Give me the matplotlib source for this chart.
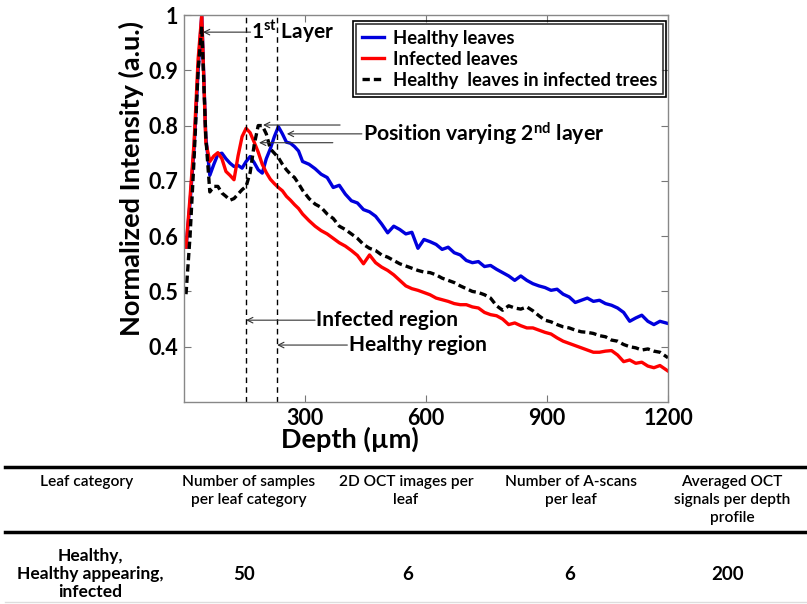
import matplotlib
matplotlib.use("Agg")
import matplotlib.pyplot as plt
from matplotlib.lines import Line2D
from matplotlib.patches import Rectangle

# ---------------- data ----------------
depth = [5, 15, 25, 35, 44, 54, 64, 74, 84, 94, 104, 114, 124, 134, 144, 154, 164, 174, 184, 194,
         204, 214, 224, 234, 244, 254, 264, 274, 284, 294,
         310, 325, 340, 355, 370, 385, 400, 415, 430, 445, 460, 475, 490, 505, 520, 535, 550, 565,
         580, 595, 610, 625, 640, 655, 670, 685, 700, 715, 730, 745, 760, 775, 790, 805, 820, 835,
         850, 865, 880, 895, 910, 925, 940, 955, 970, 985, 1000, 1015, 1030, 1045, 1060, 1075, 1090,
         1105, 1120, 1135, 1150, 1165, 1180, 1200]

healthy = [0.58, 0.66, 0.76, 0.90, 1.00, 0.78, 0.71, 0.73, 0.748, 0.75, 0.74, 0.732, 0.726, 0.728,
           0.723, 0.735, 0.744, 0.733, 0.72, 0.714, 0.74, 0.758, 0.78, 0.798, 0.785, 0.77, 0.768,
           0.762, 0.754, 0.735,
           0.73, 0.722, 0.712, 0.706, 0.688, 0.692, 0.676, 0.664, 0.66, 0.648, 0.644, 0.636, 0.622,
           0.606, 0.618, 0.612, 0.604, 0.607, 0.578, 0.594, 0.59, 0.585, 0.576, 0.58, 0.57, 0.566,
           0.556, 0.552, 0.554, 0.545, 0.547, 0.54, 0.534, 0.528, 0.52, 0.528, 0.52, 0.514, 0.51,
           0.507, 0.502, 0.504, 0.495, 0.49, 0.48, 0.484, 0.488, 0.482, 0.484, 0.478, 0.475, 0.47,
           0.462, 0.446, 0.452, 0.457, 0.446, 0.44, 0.446, 0.442]

infected = [0.58, 0.67, 0.77, 0.92, 1.00, 0.77, 0.735, 0.745, 0.751, 0.74, 0.717, 0.71, 0.702,
            0.745, 0.78, 0.795, 0.787, 0.77, 0.752, 0.73, 0.715, 0.703, 0.695, 0.688, 0.682, 0.672,
            0.665, 0.657, 0.65, 0.64,
            0.628, 0.618, 0.61, 0.604, 0.596, 0.588, 0.582, 0.574, 0.565, 0.55, 0.566, 0.552, 0.544,
            0.538, 0.53, 0.52, 0.51, 0.505, 0.502, 0.498, 0.494, 0.488, 0.485, 0.482, 0.478, 0.476,
            0.476, 0.472, 0.47, 0.462, 0.458, 0.456, 0.45, 0.44, 0.443, 0.438, 0.434, 0.434, 0.43,
            0.426, 0.423, 0.416, 0.41, 0.406, 0.402, 0.398, 0.394, 0.39, 0.39, 0.392, 0.393, 0.385,
            0.373, 0.376, 0.37, 0.372, 0.365, 0.362, 0.366, 0.356]

healthy_in_infected = [0.495, 0.60, 0.74, 0.90, 0.98, 0.78, 0.68, 0.69, 0.69, 0.678, 0.672, 0.665,
                       0.668, 0.676, 0.684, 0.69, 0.715, 0.765, 0.80, 0.80, 0.785, 0.758, 0.75,
                       0.742, 0.73, 0.72, 0.712, 0.706, 0.695, 0.683,
                       0.668, 0.658, 0.652, 0.64, 0.632, 0.618, 0.612, 0.604, 0.596, 0.585, 0.578,
                       0.574, 0.566, 0.562, 0.556, 0.55, 0.546, 0.542, 0.538, 0.535, 0.534, 0.53,
                       0.524, 0.52, 0.516, 0.51, 0.505, 0.5, 0.498, 0.494, 0.488, 0.474, 0.466,
                       0.474, 0.47, 0.468, 0.472, 0.465, 0.456, 0.448, 0.445, 0.44, 0.436, 0.434,
                       0.43, 0.427, 0.426, 0.424, 0.42, 0.418, 0.412, 0.41, 0.404, 0.4, 0.398,
                       0.394, 0.396, 0.392, 0.39, 0.38]

series_labels = ["Healthy leaves", "Infected leaves", "Healthy  leaves in infected trees"]
x_ticks = [300, 600, 900, 1200]
y_ticks = [0.4, 0.5, 0.6, 0.7, 0.8, 0.9, 1.0]
y_tick_labels = ["0.4", "0.5", "0.6", "0.7", "0.8", "0.9", "1"]
infected_region = 154
healthy_region = 231

table_headers = ["Leaf category", "Number of samples\nper leaf category", "2D OCT images per\nleaf",
                 "Number of A-scans\nper leaf", "Averaged OCT\nsignals per depth\nprofile"]
table_row = ["Healthy,\nHealthy appearing,\ninfected", "50", "6", "6", "200"]

# ---------------- style ----------------
plt.rcParams['font.family'] = ['Lato', 'DejaVu Sans']
plt.rcParams['mathtext.fontset'] = 'custom'
plt.rcParams['mathtext.rm'] = 'Lato:bold'
plt.rcParams['mathtext.it'] = 'Lato:bold'
plt.rcParams['mathtext.bf'] = 'Lato:bold'

W, H = 807, 604
fig = plt.figure(figsize=(W / 100, H / 100), dpi=100)
fig.patch.set_facecolor('white')

L, R, T, B = 184, 668, 15, 402
ax = fig.add_axes([L / W, 1 - B / H, (R - L) / W, (B - T) / H])

ax.plot(depth, healthy, color='#0000dd', lw=2.4, label=series_labels[0])
ax.plot(depth, infected, color='#ff0000', lw=2.4, label=series_labels[1])
ax.plot(depth, healthy_in_infected, color='black', lw=2.4, linestyle=(0, (2.2, 1.2)),
        label=series_labels[2])

ax.axvline(infected_region, color='black', lw=1.0, linestyle=(0, (4, 3)))
ax.axvline(healthy_region, color='black', lw=1.0, linestyle=(0, (4, 3)))

ax.set_xlim(0, 1200)
ax.set_ylim(0.3, 1.0)
ax.set_xticks(x_ticks)
ax.set_yticks(y_ticks)
ax.set_yticklabels(y_tick_labels)
ax.tick_params(direction='in', top=True, right=True, length=5, width=0.8, color='#777777',
               labelsize=15.5, pad=4)
for lab in ax.get_xticklabels() + ax.get_yticklabels():
    lab.set_fontweight('bold')
for sp in ax.spines.values():
    sp.set_color('#888888')
    sp.set_linewidth(1.0)

ax.set_xlabel("Depth (\u00b5m)", fontsize=19.5, fontweight='bold')
ax.set_ylabel("Normalized Intensity (a.u.)", fontsize=19.5, fontweight='bold')
ax.xaxis.set_label_coords((350 - L) / (R - L), (B - 427) / (B - T))
ax.yaxis.set_label_coords((144 - L) / (R - L), (B - 178) / (B - T))

leg = ax.legend(loc='upper right', bbox_to_anchor=((663 - L) / (R - L), (B - 24) / (B - T)),
                prop={'weight': 'bold', 'size': 13.3}, frameon=True, fancybox=False,
                edgecolor='black', handlelength=1.2, handletextpad=0.5, borderpad=0.3,
                labelspacing=0.22, borderaxespad=0)
leg.get_frame().set_linewidth(1.2)

arrow = dict(arrowstyle='->', lw=0.8, color='#333333', shrinkA=0, shrinkB=0,
             mutation_scale=10)

# 1st layer
ax.annotate('', xy=(47, 0.969), xytext=(165, 0.969), arrowprops=arrow)
ax.text(167, 0.969, '1$^{\\rm st}$ Layer', fontsize=15, fontweight='bold', va='center', ha='left')

# position varying 2nd layer
ax.annotate('', xy=(196, 0.801), xytext=(387, 0.801), arrowprops=arrow)
ax.annotate('', xy=(255, 0.785), xytext=(441, 0.785), arrowprops=arrow)
ax.annotate('', xy=(186, 0.769), xytext=(369, 0.769), arrowprops=arrow)
ax.text(443, 0.785, 'Position varying 2$^{\\rm nd}$ layer', fontsize=15.3, fontweight='bold',
        va='center', ha='left')

# regions
ax.annotate('', xy=(infected_region, 0.448), xytext=(325, 0.448), arrowprops=arrow)
ax.text(328, 0.448, 'Infected region', fontsize=15, fontweight='bold', va='center', ha='left')
ax.annotate('', xy=(healthy_region, 0.403), xytext=(405, 0.403), arrowprops=arrow)
ax.text(408, 0.403, 'Healthy region', fontsize=15, fontweight='bold', va='center', ha='left')

# double legend border
fig.canvas.draw()
bb = leg.get_window_extent()
pad = 3
fig.add_artist(Rectangle(((bb.x0 - pad) / W, (bb.y0 - pad) / H), (bb.width + 2 * pad) / W,
                         (bb.height + 2 * pad) / H, transform=fig.transFigure, fill=False,
                         edgecolor='black', lw=1.2))

# ---------------- table ----------------
fig.add_artist(Line2D([5 / W, 1.0], [1 - 467 / H, 1 - 467 / H], color='black', lw=2.5,
                      transform=fig.transFigure))
fig.add_artist(Line2D([5 / W, 1.0], [1 - 532 / H, 1 - 532 / H], color='black', lw=2.5,
                      transform=fig.transFigure))
fig.add_artist(Line2D([5 / W, 1.0], [1 - 602 / H, 1 - 602 / H], color='#dddddd', lw=1.0,
                      transform=fig.transFigure))
col_x = [87, 249, 406, 571, 732]
num_x = [90, 244, 408, 570, 728]
for cx, txt in zip(col_x, table_headers):
    fig.text(cx / W, 1 - 475 / H, txt, ha='center', va='top', fontsize=11.2, linespacing=1.35,
             multialignment='center', fontweight='semibold')
for i, (cx, txt) in enumerate(zip(num_x, table_row)):
    fig.text(cx / W, 1 - 574 / H, txt, ha='center', va='center', fontsize=12.5 if i == 0 else 13.5,
             fontweight='bold', linespacing=1.12, multialignment='center')

fig.savefig('out.png', dpi=100, facecolor='white')
